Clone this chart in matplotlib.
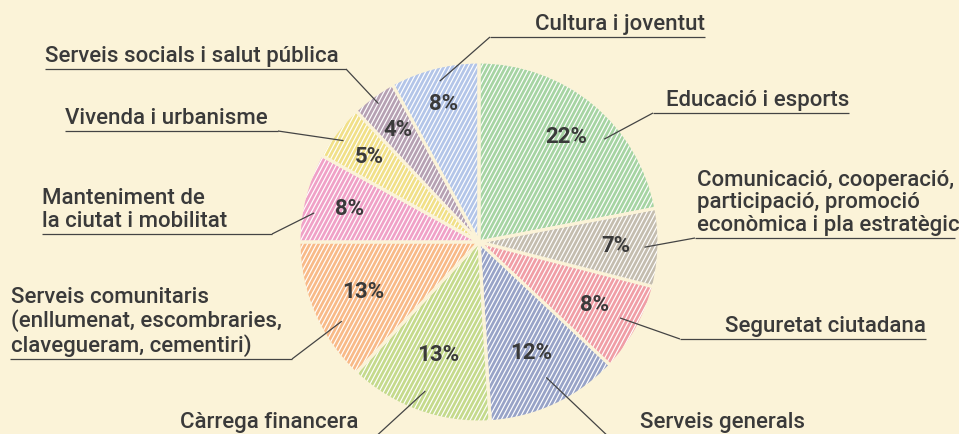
import numpy as np
import matplotlib
matplotlib.use("Agg")
import matplotlib.pyplot as plt
from matplotlib.collections import LineCollection
from matplotlib.patches import Circle

# ---------------- data ----------------
categories = [
    "Educació i esports",
    "Comunicació, cooperació,\nparticipació, promoció\neconòmica i pla estratègic",
    "Seguretat ciutadana",
    "Serveis generals",
    "Càrrega financera",
    "Serveis comunitaris\n(enllumenat, escombraries,\nclavegueram, cementiri)",
    "Manteniment de\nla ciutat i mobilitat",
    "Vivenda i urbanisme",
    "Serveis socials i salut pública",
    "Cultura i joventut",
]
shares = [22, 7, 8, 12, 13, 13, 8, 5, 4, 8]
colors = ["#a6d4a3", "#c4bdaf", "#f09ea6", "#98a3c7", "#c5da8c",
          "#f8ba88", "#f0a1c7", "#f1e088", "#b6a1b3", "#b3c5e8"]

# ---------------- style / layout ----------------
BG = "#fbf3d8"
TXT = "#3a3a3a"
W, H = 959, 434
plt.rcParams["font.family"] = ["Roboto", "DejaVu Sans"]

def P(x, y):
    return (x, H - y)

cx, cy = P(479, 242)
R = 180

layout = [
    dict(tx=849, ha="right", by=111, uy=113, ux=(653, 849), ex=653, dang=-11, rr=0.90),
    dict(tx=697, ha="left", by=236, uy=238, ux=(695, 955), ex=695, dang=0, rr=0.92),
    dict(tx=926, ha="right", by=337, uy=339, ux=(680, 926), ex=680, dang=0.5, rr=0.89),
    dict(tx=805, ha="right", by=433, uy=440, ux=(612, 805), ex=612, dang=1.2, rr=0.84),
    dict(tx=180, ha="left", by=433, uy=440, ux=(180, 372), ex=372, dang=0, rr=0.88),
    dict(tx=11, ha="left", by=357, uy=359, ux=(10, 292), ex=292, dang=6.6, rr=0.88),
    dict(tx=42, ha="left", by=232, uy=234, ux=(42, 272), ex=272, dang=4.4, rr=0.93),
    dict(tx=65, ha="left", by=129, uy=131, ux=(65, 278), ex=278, dang=1, rr=0.94),
    dict(tx=45, ha="left", by=67, uy=69, ux=(45, 346), ex=346, dang=0, rr=0.95),
    dict(tx=705, ha="right", by=35, uy=37, ux=(490, 705), ex=490, dang=-0.7, rr=0.92),
]
pct_r = [0.76, 0.76, 0.73, 0.68, 0.67, 0.70, 0.74, 0.77, 0.77, 0.79]

fig = plt.figure(figsize=(W / 100, H / 100), dpi=100, facecolor=BG)
ax = fig.add_axes([0, 0, 1, 1])
ax.set_facecolor(BG)

common = dict(startangle=90, counterclock=False, center=(cx, cy), radius=R,
              frame=True)
wedges, _ = ax.pie(shares, colors=colors, wedgeprops=dict(linewidth=0), **common)

# fine white diagonal hatching (steep, ~62 deg), clipped to the pie disc
ang = np.deg2rad(62)
d = np.array([np.cos(ang), np.sin(ang)])
n = np.array([-np.sin(ang), np.cos(ang)])
step = 3.9
offs = np.arange(-R - 5, R + 5, step)
segs = [[(cx + o * n[0] - (R + 5) * d[0], cy + o * n[1] - (R + 5) * d[1]),
         (cx + o * n[0] + (R + 5) * d[0], cy + o * n[1] + (R + 5) * d[1])] for o in offs]
hatch = LineCollection(segs, colors="white", linewidths=0.85, zorder=1.5)
disc = Circle((cx, cy), R, transform=ax.transData)
ax.add_collection(hatch)
hatch.set_clip_path(disc)

sw, _ = ax.pie(shares, colors=["none"] * len(shares),
               wedgeprops=dict(linewidth=2.2, edgecolor=BG), **common)
for s in sw:
    s.set_zorder(2)
ax.set_xlim(0, W)
ax.set_ylim(0, H)
ax.set_aspect("equal")
ax.axis("off")

for w, pr, lay, lab in zip(wedges, pct_r, layout, categories):
    mid = 0.5 * (w.theta1 + w.theta2)
    pct = 100 * (w.theta2 - w.theta1) / 360
    a = np.deg2rad(mid)
    ax.text(cx + pr * R * np.cos(a), cy + pr * R * np.sin(a), f"{pct:.0f}%",
            ha="center", va="center", fontsize=16, fontweight="bold", color=TXT,
            zorder=3)
    aa = np.deg2rad(mid + lay["dang"])
    sx, sy = cx + lay["rr"] * R * np.cos(aa), cy + lay["rr"] * R * np.sin(aa)
    ex, ey = P(lay["ex"], lay["uy"])
    ax.plot([sx, ex], [sy, ey], color="#444444", lw=0.9, solid_capstyle="butt",
            clip_on=False, zorder=3)
    x0, y0 = P(lay["ux"][0], lay["uy"])
    x1, _ = P(lay["ux"][1], lay["uy"])
    ax.plot([x0, x1], [y0, y0], color="#444444", lw=0.9, solid_capstyle="butt",
            clip_on=False, zorder=3)
    tx, ty = P(lay["tx"], lay["by"])
    ax.text(tx, ty, lab, ha=lay["ha"], va="bottom", fontsize=16, color=TXT,
            fontweight="medium", linespacing=1.1, multialignment="left", zorder=3)

fig.savefig("out.png", dpi=100, facecolor=BG)
